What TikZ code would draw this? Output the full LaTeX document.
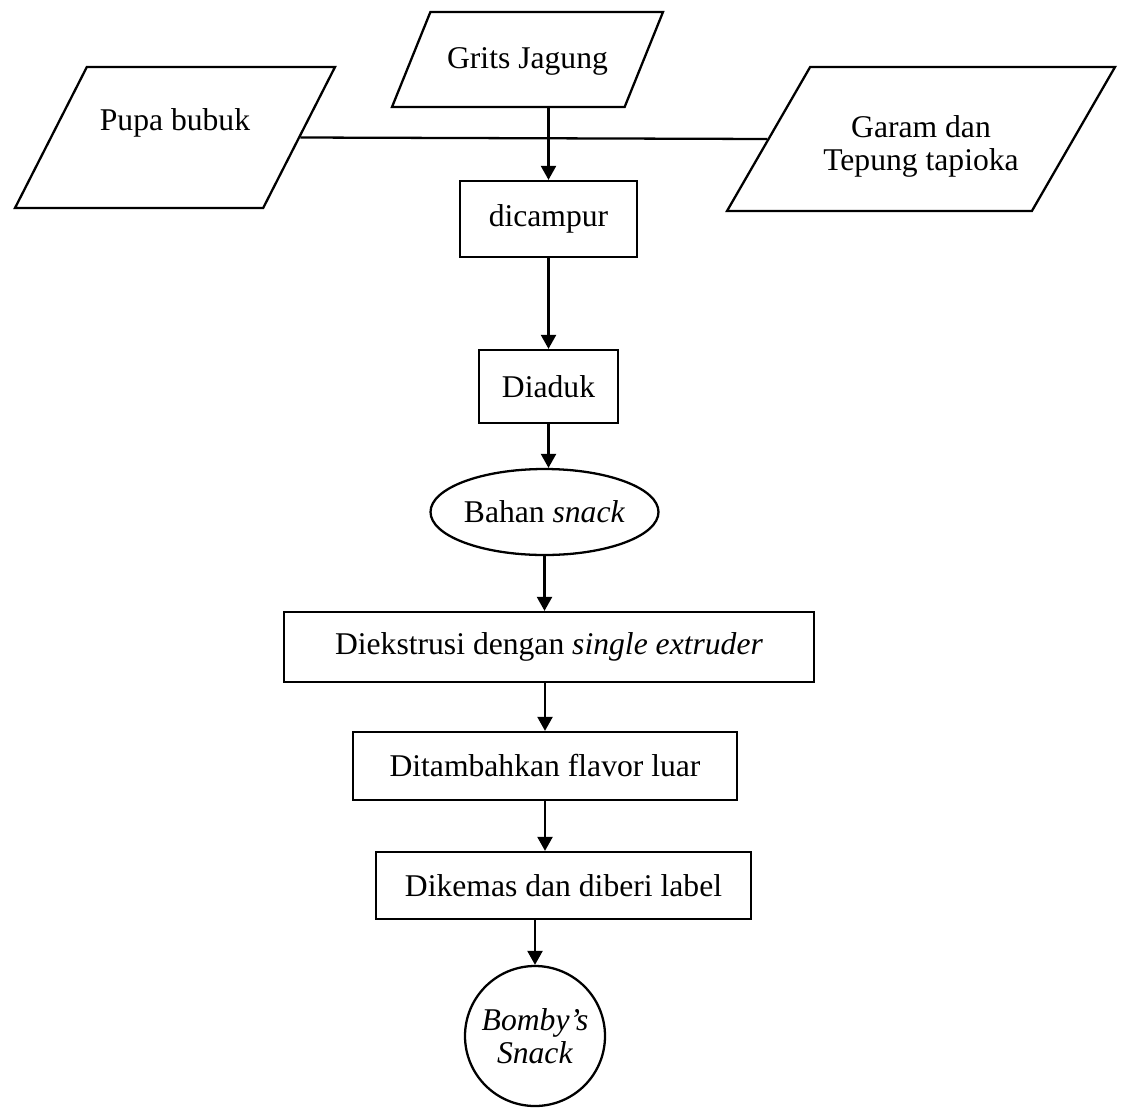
\documentclass[tikz,border=0pt]{standalone}
\usepackage{fontspec}
\setmainfont{Liberation Serif}
\usetikzlibrary{shapes.geometric,arrows.meta}

\begin{document}
\begin{tikzpicture}[
        line width=1.3pt,
        every node/.style={font=\fontsize{18}{19}\selectfont},
        proses/.style={rectangle,draw,inner sep=0pt},
        bahan/.style={trapezium,draw,trapezium stretches body=true,inner sep=0pt},
        panah/.style={-{Triangle[length=2.8mm,width=3mm]}}
    ]

        \useasboundingbox (0,0) rectangle (22.5,-22.14);

        \node[bahan,trapezium left angle=68,trapezium right angle=112,minimum width=5.42cm,text height=1.12cm,text depth=0.78cm] (G) at (10.55, -1.19) { Grits Jagung };
        \node[bahan,trapezium left angle=63,trapezium right angle=117,minimum width=6.4cm,text height=1.27cm,text depth=1.55cm] (P) at (3.5, -2.75) { Pupa bubuk };
        \node[bahan,trapezium left angle=60,trapezium right angle=120,minimum width=7.76cm,text height=1.76cm,text depth=1.12cm] (K) at (18.42, -2.78) { \begin{tabular}{@{}c@{}}Garam dan\\Tepung tapioka\end{tabular} };

        \node[proses,minimum width=3.54cm,minimum height=1.52cm] (C) at (10.97, -4.38) { dicampur };
        \node[proses,minimum width=2.78cm,minimum height=1.46cm] (D) at (10.97, -7.73) { Diaduk };
        \node[ellipse,draw,inner sep=0pt,minimum width=4.38cm,minimum height=1.72cm] (E) at (10.89, -10.24) { Bahan \textit{snack} };
        \node[proses,minimum width=10.6cm,minimum height=1.4cm] (F) at (10.98, -12.94) { Diekstrusi dengan \textit{single extruder} };
        \node[proses,minimum width=7.68cm,minimum height=1.36cm] (H) at (10.9, -15.32) { Ditambahkan flavor luar };
        \node[proses,minimum width=7.5cm,minimum height=1.34cm] (I) at (11.27, -17.71) { Dikemas dan diberi label };
        \node[circle,draw,inner sep=0pt,minimum size=2.8cm,align=center] (J) at (10.7, -20.72) { \textit{Bomby's}\\\textit{Snack} };

        \draw (P.east) -- (K.west);
        \draw[panah] (C.north |- G.south) -- (C.north);
        \draw[panah] (C.south) -- (D.north);
        \draw[panah] (D.south) -- (D.south |- E.north);
        \draw[panah] (E.south) -- (E.south |- F.north);
        \draw[panah] (H.north |- F.south) -- (H.north);
        \draw[panah] (H.south) -- (H.south |- I.north);
        \draw[panah] (J.north |- I.south) -- (J.north);

    \end{tikzpicture}
\end{document}
